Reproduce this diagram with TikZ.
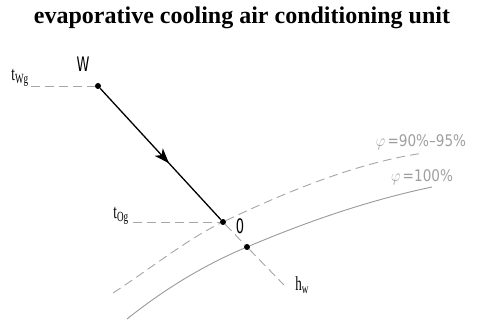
\documentclass[tikz,border=0pt]{standalone}
\usepackage{fontspec}
\usepackage{graphicx}
\setmainfont{Liberation Serif}
\newfontfamily\cadfont{DejaVu Sans}
\usetikzlibrary{arrows.meta,decorations.markings}
\tikzset{
  dot/.style={circle, fill=black, inner sep=0pt, minimum size=6pt},
  guide/.style={gray!70, line width=0.9pt, dash pattern=on 9pt off 5pt},
  satline/.style={gray!80, line width=0.9pt},
  caplabel/.style={inner sep=0pt, font=\cadfont\fontsize{20}{20}\selectfont},
  tlabel/.style={inner sep=0pt, font=\fontsize{20}{20}\selectfont},
  rhlabel/.style={inner sep=0pt, text=gray!75, font=\cadfont\fontsize{16}{16}\selectfont},
  midarrow/.style={decoration={markings, mark=at position 0.57 with {\arrow{Stealth[length=15pt,width=11pt,inset=4pt]}}}, postaction={decorate}}
}
\begin{document}
\begin{tikzpicture}[x=1pt,y=-1pt]
		\useasboundingbox (0,0) rectangle (477,320);
		\node[font=\bfseries\fontsize{24}{24}\selectfont] (title) at (242,18) {evaporative cooling air conditioning unit};

		% state points
		\node[dot] (w) at (98,86) {};
		\node[dot] (o) at (223,222) {};
		\node[dot] (s) at (247,247) {};
		\coordinate (tw) at (31,86);
		\coordinate (to) at (133,222);
		\coordinate (hw) at (284,285);

		% relative humidity lines
		\draw[guide] (113,293) .. controls (150,269) and (186,240) .. (o)
		  .. controls (290,190) and (360,162) .. (424,153);
		\draw[satline] (127,319) .. controls (167,287) and (207,264) .. (s)
		  .. controls (310,220.5) and (370,200) .. (432,187);

		\draw[guide] (tw) -- (w);
		\draw[guide] (to) -- (o);
		\draw[guide] (o) -- (s) -- (hw);
		\draw[line width=1.3pt, midarrow] (w) -- (o);

		% labels
		\node[caplabel] (lw) at (83,64) {\scalebox{0.65}[1]{W}};
		\node[caplabel] (lo) at (240,226) {\scalebox{0.65}[1]{0}};
		\node[tlabel] (ltw) at (20,78) {\scalebox{0.65}[1]{t\textsubscript{Wg}}};
		\node[tlabel] (lto) at (121,216) {\scalebox{0.65}[1]{t\textsubscript{Og}}};
		\node[tlabel] (lhw) at (302,285) {\scalebox{0.65}[1]{h\textsubscript{w}}};
		\node[rhlabel] (phi1) at (421,142) {\scalebox{0.85}[1]{\fontsize{19}{19}\selectfont$\varphi$\fontsize{16}{16}\selectfont\,=90\%\textendash95\%}};
		\node[rhlabel] (phi2) at (422,177) {\scalebox{0.85}[1]{\fontsize{19}{19}\selectfont$\varphi$\fontsize{16}{16}\selectfont\,=100\%}};
	\end{tikzpicture}
\end{document}
